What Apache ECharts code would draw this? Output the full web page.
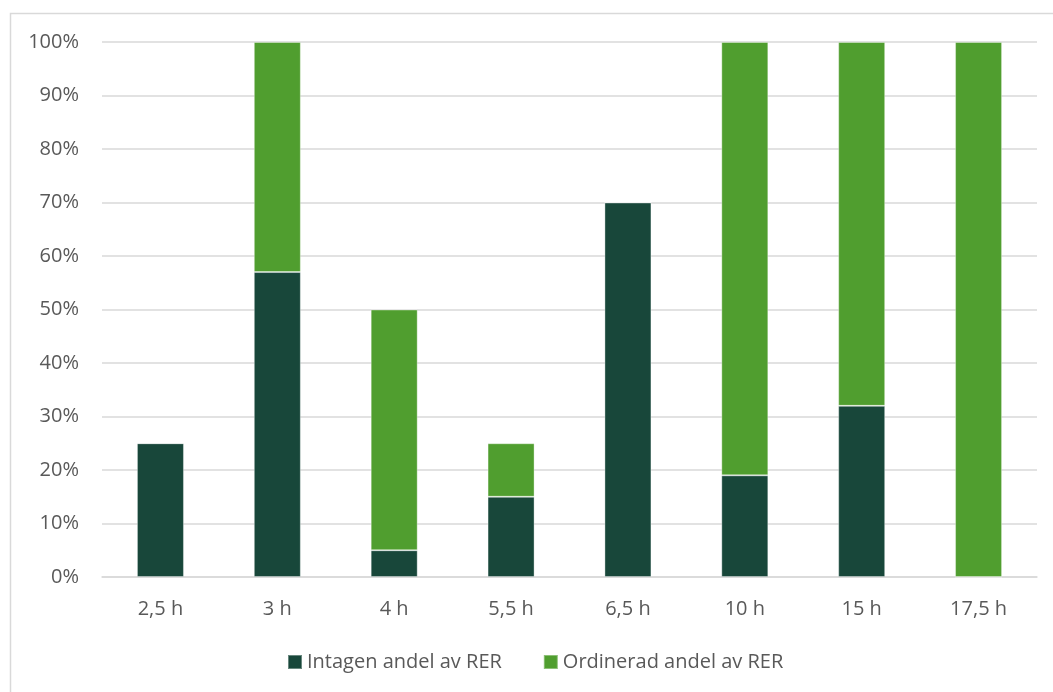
<!DOCTYPE html>
<html>
<head>
<meta charset="utf-8">
<script src="https://cdn.jsdelivr.net/npm/echarts@6/dist/echarts.min.js"></script>
<style>
html,body{margin:0;padding:0;background:#fff;}
#chart{width:1053px;height:692px;}
</style>
</head>
<body>
<div id="chart"></div>
<script>
const categories = ['2,5 h', '3 h', '4 h', '5,5 h', '6,5 h', '10 h', '15 h', '17,5 h'];
const intagen = [25, 57, 5, 15, 70, 19, 32, 0];
const ordinerad = [0, 43, 45, 10, 0, 81, 68, 100];
const seriesNames = ['Intagen andel av RER', 'Ordinerad andel av RER'];
const yTicks = { min: 0, max: 100, interval: 10 };

const font = 'Open Sans';
const textColor = '#595959';
const chart = echarts.init(document.getElementById('chart'), null, { renderer: 'canvas' });
chart.setOption({
  animation: false,
  backgroundColor: '#fff',
  graphic: [{
    type: 'rect',
    left: 8, top: 11,
    shape: { width: 1100, height: 740 },
    style: { fill: 'none', stroke: '#d9d9d9', lineWidth: 1.5 },
    silent: true, z: -10
  }],
  grid: { left: 102, right: 16, top: 42, bottom: 115, containLabel: false },
  legend: {
    left: 287, top: 652, padding: 0,
    icon: 'rect', itemWidth: 14, itemHeight: 14, itemGap: 41,
    textStyle: { fontFamily: font, fontSize: 20, color: textColor },
    data: seriesNames
  },
  xAxis: {
    type: 'category', data: categories,
    axisLine: { lineStyle: { color: '#d9d9d9', width: 1.5 } },
    axisTick: { show: false },
    axisLabel: { fontFamily: font, fontSize: 20, color: textColor, margin: 22 }
  },
  yAxis: {
    type: 'value', min: yTicks.min, max: yTicks.max, interval: yTicks.interval,
    axisLine: { show: false }, axisTick: { show: false },
    splitLine: { lineStyle: { color: '#d9d9d9', width: 1.5 } },
    axisLabel: { fontFamily: font, fontSize: 20, color: textColor, margin: 23, formatter: '{value}%' }
  },
  series: [
    { name: seriesNames[0], type: 'bar', stack: 'a', data: intagen, barWidth: 47,
      itemStyle: { color: '#18473A', borderColor: 'rgba(255,255,255,0.35)', borderWidth: 1 } },
    { name: seriesNames[1], type: 'bar', stack: 'a', data: ordinerad, barWidth: 47,
      itemStyle: { color: '#509E2F', borderColor: 'rgba(255,255,255,0.35)', borderWidth: 1 } }
  ]
});
</script>
</body>
</html>
